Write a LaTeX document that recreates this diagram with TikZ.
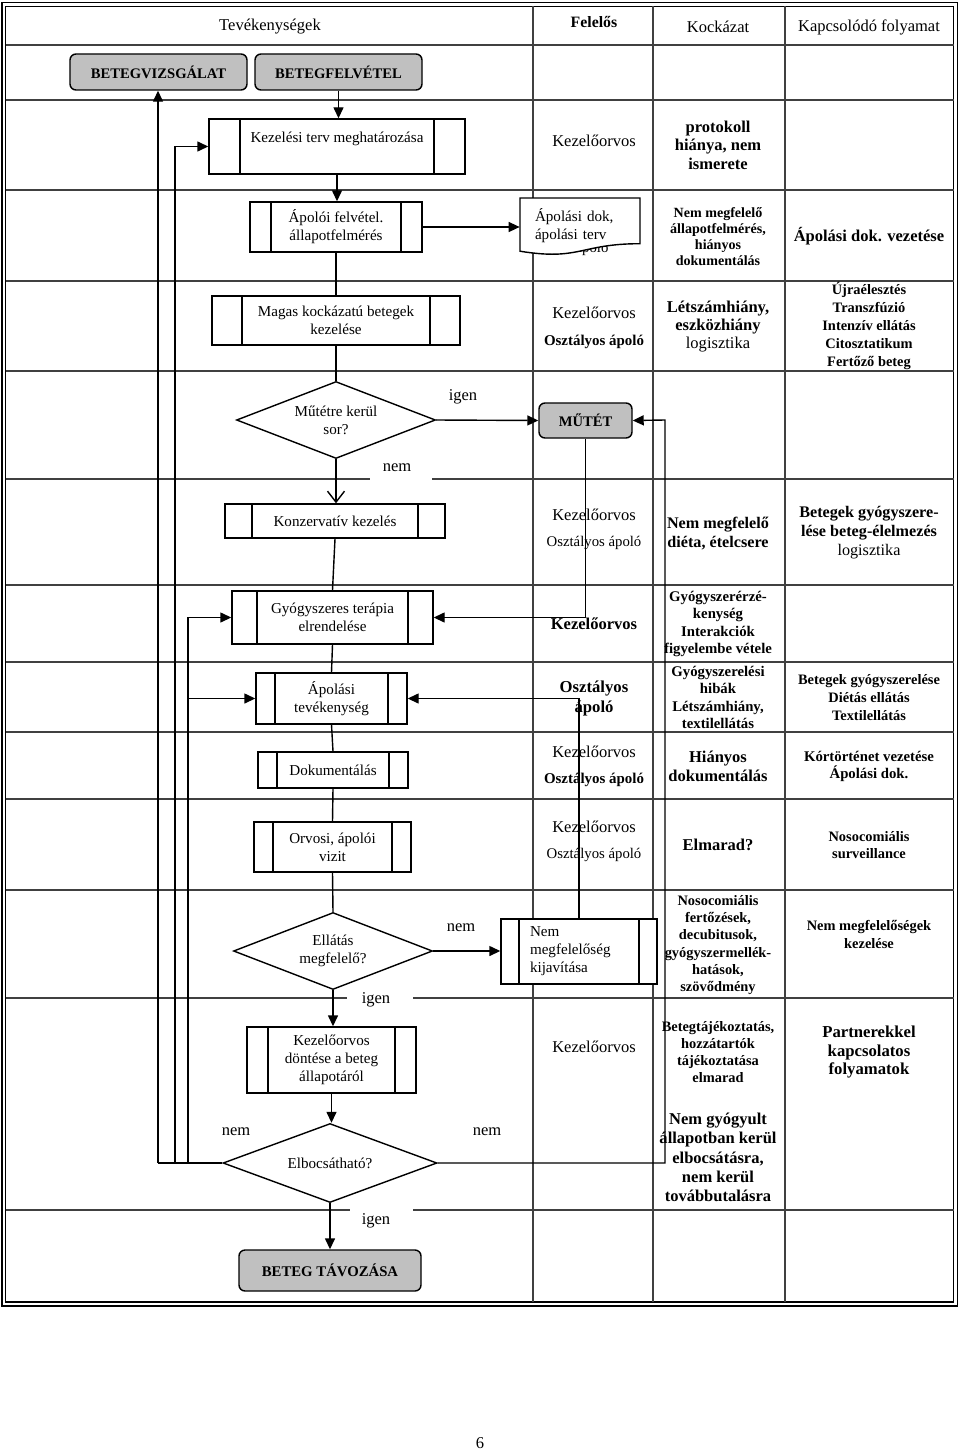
\documentclass[tikz,border=0pt]{standalone}
\usepackage{fontspec}
\setmainfont{Liberation Serif}
\usetikzlibrary{shapes.geometric, arrows.meta, positioning}
\definecolor{boxgray}{RGB}{192,192,192}

\tikzset{
  grid/.style={black!75, line width=0.6pt},
  link/.style={line width=0.8pt},
  flow/.style={line width=0.8pt, -{Triangle[length=2.2mm,width=2mm]}},
  openflow/.style={line width=0.8pt, -{Straight Barb[length=2.2mm,width=3.4mm]}},
  flowtxt/.style={align=center, font=\fontsize{8.6}{10.2}\selectfont},
  cell/.style={align=center, font=\fontsize{9.4}{10.8}\selectfont},
  cellbf/.style={align=center, font=\fontsize{9.4}{10.8}\selectfont\bfseries},
  cellsm/.style={align=center, font=\fontsize{8.2}{9.8}\selectfont\bfseries},
  procbox/.style={draw, line width=0.8pt, fill=white, flowtxt, inner sep=1pt,
    path picture={
      \draw[line width=0.8pt]
        ([xshift=#1]path picture bounding box.north west) -- ([xshift=#1]path picture bounding box.south west)
        ([xshift=-#1]path picture bounding box.north east) -- ([xshift=-#1]path picture bounding box.south east);}},
  termbox/.style={draw, line width=0.8pt, fill=boxgray, rounded corners=1.2mm,
    font=\fontsize{8.3}{10}\selectfont\bfseries},
  decision/.style={diamond, draw, line width=0.8pt, fill=white, inner sep=0pt, aspect=2.6, flowtxt}
}

\begin{document}
\begin{tikzpicture}[x=0.2mm, y=-0.2mm]
	\useasboundingbox (0,0) rectangle (960,1451);
	%Frame
	\draw[line width=1pt] (2,2.5) rectangle (957.5,1306);
	\draw[line width=0.9pt] (5.5,6.5) rectangle (953.5,1302);
	%Columns and rows
	\foreach \cx in {533,653,785} \draw[grid] (\cx,6.5) -- (\cx,1302);
	\foreach \ry in {45,100,190,281,371,585,662,732,799,890} \draw[grid] (5.5,\ry) -- (953.5,\ry);
	\foreach \ry/\ga/\gb in {479/370/432, 998/347/413, 1210/350/413} {
		\draw[grid] (5.5,\ry) -- (\ga,\ry);
		\draw[grid] (\gb,\ry) -- (953.5,\ry);
	}
	%Header
	\node[cell] (hTev) at (270,27) {Tevékenységek};
	\node[cellbf, font=\fontsize{9}{10.8}\selectfont\bfseries] (hFel) at (594,22) {Felelős};
	\node[cell] (hKoc) at (718,27) {Kockázat};
	\node[cell] (hKap) at (869,27) {Kapcsolódó folyamat};

	% Responsible, risk, related process
	\node[cell] (f1) at (594,141) {Kezelőorvos};
	\node[cellbf, font=\fontsize{9.4}{10.5}\selectfont\bfseries] (k1) at (718,145) {protokoll\\hiánya, nem\\ismerete};
	\node[cell, font=\fontsize{8.4}{10}\selectfont] (f2) at (592,249) {ápoló};
	\node[cellsm, font=\fontsize{8}{9.1}\selectfont\bfseries] (k2) at (718,236.5) {Nem megfelelő\\állapotfelmérés,\\hiányos\\dokumentálás};
	\node[cellbf] (p2) at (869,236) {Ápolási dok. vezetése};
	\node[cell] (f3a) at (594,313) {Kezelőorvos};
	\node[cellsm, font=\fontsize{8.5}{10}\selectfont\bfseries] (f3b) at (594,342) {Osztályos ápoló};
	\node[cell, font=\fontsize{9.4}{10.5}\selectfont] (k3) at (718,326.5) {\textbf{Létszámhiány,}\\\textbf{eszközhiány}\\logisztika};
	\node[cellsm, font=\fontsize{8.2}{10.2}\selectfont\bfseries] (p3) at (869,326) {Újraélesztés\\Transzfúzió\\Intenzív ellátás\\Citosztatikum\\Fertőző beteg};
	\node[cell] (f5a) at (594,515) {Kezelőorvos};
	\node[cell, font=\fontsize{8.4}{10}\selectfont] (f5b) at (594,543) {Osztályos ápoló};
	\node[cellbf, font=\fontsize{9.2}{10.8}\selectfont\bfseries] (k5) at (718,533.5) {Nem megfelelő\\diéta, ételcsere};
	\node[cell, font=\fontsize{9.2}{11}\selectfont] (p5) at (869,532.5) {\textbf{Betegek gyógyszere-}\\\textbf{lése beteg-élelmezés}\\logisztika};
	\node[cellbf] (f6) at (594,624) {Kezelőorvos};
	\node[cellsm, font=\fontsize{8.4}{9.8}\selectfont\bfseries] (k6) at (718,624) {Gyógyszerérzé-\\kenység\\Interakciók\\figyelembe vétele};
	\node[cellbf, font=\fontsize{9.5}{11.4}\selectfont\bfseries] (f7) at (594,698) {Osztályos\\ápoló};
	\node[cellsm, font=\fontsize{8.4}{9.8}\selectfont\bfseries] (k7) at (718,697.5) {Gyógyszerelési\\hibák\\Létszámhiány,\\textilellátás};
	\node[cellsm, font=\fontsize{8.2}{10}\selectfont\bfseries] (p7) at (869,697.5) {Betegek gyógyszerelése\\Diétás ellátás\\Textilellátás};
	\node[cell] (f8a) at (594,752) {Kezelőorvos};
	\node[cellsm, font=\fontsize{8.5}{10}\selectfont\bfseries] (f8b) at (594,780) {Osztályos ápoló};
	\node[cellbf] (k8) at (718,766.5) {Hiányos\\dokumentálás};
	\node[cellsm, font=\fontsize{8.4}{9.7}\selectfont\bfseries] (p8) at (869,766) {Kórtörténet vezetése\\Ápolási dok.};
	\node[cell] (f9a) at (594,827) {Kezelőorvos};
	\node[cell, font=\fontsize{8.4}{10}\selectfont] (f9b) at (594,855) {Osztályos ápoló};
	\node[cellbf] (k9) at (718,845) {Elmarad?};
	\node[cellsm, font=\fontsize{8.2}{9.7}\selectfont\bfseries] (p9) at (869,845) {Nosocomiális\\surveillance};
	\node[cellsm] (k10) at (718,945) {Nosocomiális\\fertőzések,\\decubitusok,\\gyógyszermellék-\\hatások,\\szövődmény};
	\node[cellsm] (p10) at (869,934.5) {Nem megfelelőségek\\kezelése};
	\node[cell] (f11) at (594,1047) {Kezelőorvos};
	\node[cellsm] (k11) at (718,1052) {Betegtájékoztatás,\\hozzátartók\\tájékoztatása\\elmarad};
	\node[cellbf, font=\fontsize{9.5}{10.8}\selectfont\bfseries] (p11) at (869,1052) {Partnerekkel\\kapcsolatos\\folyamatok};
	\node[cellbf, font=\fontsize{9.4}{10.9}\selectfont\bfseries] (k12) at (718,1157.5) {Nem gyógyult\\állapotban kerül\\elbocsátásra,\\nem kerül\\továbbutalásra};

	%Document shape
	\draw[line width=0.8pt, fill=white] (520,198) -- (640,198) -- (640,243.7)
		.. controls (580,243.7) and (580,261) .. (520,251.2) -- cycle;
	\node[flowtxt, align=left, text width=18mm, minimum width=24mm, minimum height=10mm, inner sep=0pt] (doc) at (580,226) {Ápolási dok,\\ápolási terv};

	%Process boxes
	\node[termbox, minimum width=35.4mm, minimum height=7.2mm] (vizsg) at (158.5,72) {BETEGVIZSGÁLAT};
	\node[termbox, minimum width=33.4mm, minimum height=7.2mm] (felvet) at (338.5,72) {BETEGFELVÉTEL};
	\node[procbox=6.2mm, minimum width=51.2mm, minimum height=11mm] (kezterv) at (337,146.5) {Kezelési terv meghatározása\\ \mbox{}};
	\node[procbox=4.2mm, minimum width=34.4mm, minimum height=10mm] (apfelv) at (336,227) {Ápolói felvétel.\\állapotfelmérés};
	\node[procbox=6mm, minimum width=49.6mm, minimum height=9.8mm] (magas) at (336,320.5) {Magas kockázatú betegek\\kezelése};
	\node[decision, minimum width=39.8mm, minimum height=15.4mm] (mutetq) at (336,420) {Műtétre kerül\\sor?};
	\node[termbox, minimum width=18.6mm, minimum height=7mm] (mutet) at (585.5,420.5) {MŰTÉT};
	\node[procbox=5.4mm, minimum width=44mm, minimum height=6.8mm] (konz) at (335,521) {Konzervatív kezelés};
	\node[procbox=5mm, minimum width=40.2mm, minimum height=10.6mm] (gyogy) at (332.5,617.5) {Gyógyszeres terápia\\elrendelése};
	\node[procbox=3.8mm, minimum width=30.2mm, minimum height=10.2mm] (apol) at (331.5,698.5) {Ápolási\\tevékenység};
	\node[procbox=3.8mm, minimum width=30mm, minimum height=7.2mm] (dok) at (333,770) {Dokumentálás};
	\node[procbox=3.8mm, minimum width=31.4mm, minimum height=10mm] (vizit) at (332.5,847) {Orvosi, ápolói\\vizit};
	\node[decision, minimum width=39.8mm, minimum height=15.4mm] (ellq) at (333,951) {Ellátás\\megfelelő?};
	\node[procbox=3.6mm, minimum width=31.2mm, minimum height=13mm, align=left, text width=19.6mm] (javit) at (579,951.5) {Nem\\megfelelőség\\kijavítása};
	\node[procbox=4.2mm, minimum width=33.8mm, minimum height=13.2mm] (dontes) at (331.5,1060) {Kezelőorvos\\döntése a beteg\\állapotáról};
	\node[decision, minimum width=42.8mm, minimum height=15.8mm, aspect=2.7] (elbq) at (330,1163) {Elbocsátható?};
	\node[termbox, minimum width=36.4mm, minimum height=8.2mm, font=\fontsize{8.4}{10}\selectfont\bfseries] (tavozas) at (330,1270.5) {BETEG TÁVOZÁSA};

	%Main flow
	\draw[flow] (felvet.south) -- (felvet.south |- kezterv.north);
	\draw[flow] (kezterv.south) -- (kezterv.south |- apfelv.north);
	\draw[flow] (apfelv.east) -- (apfelv.east -| doc.west);
	\draw[link] (apfelv.south) -- (magas.north);
	\draw[link] (magas.south) -- (mutetq.north);
	\draw[flow] (mutetq.east) -- (mutet.west);
	\draw[openflow] (mutetq.south) -- (mutetq.south |- konz.north);
	\draw[link] (konz.south) -- (gyogy.north);
	\draw[link] (gyogy.south) -- (apol.north);
	\draw[link] (apol.south) -- (dok.north);
	\draw[link] (dok.south) -- (vizit.north);
	\draw[link] (vizit.south) -- (ellq.north);
	\draw[flow] (ellq.east) -- (ellq.east -| javit.west);
	\draw[flow] (ellq.south) -- (ellq.south |- dontes.north);
	\draw[flow] (dontes.south) -- (dontes.south |- elbq.north);
	\draw[flow] (elbq.south) -- (elbq.south |- tavozas.north);
	\draw[flow] (mutet.south) |- (gyogy.east);
	\draw[flow] (javit.north) |- (apol.east);

	%Loops back
	\coordinate (trackA) at (158,1163);
	\coordinate (trackB) at (175,1163);
	\coordinate (trackC) at (188,1163);
	\coordinate (trackR) at (665,420);
	\draw[link] (elbq.west) -- (trackA);
	\draw[flow] (trackA) -- (trackA |- vizsg.south);
	\draw[flow] (trackB) |- (kezterv.west);
	\draw[flow] (trackC) |- (gyogy.west);
	\draw[flow] (trackC |- apol.west) -- (apol.west);
	\draw[flow] (elbq.east) -| (trackR) -- (mutet.east);

	%Branch labels
	\node[cell] (lIgenA) at (463,397) {igen};
	\node[cell] (lNemA) at (397,468) {nem};
	\node[cell] (lNemB) at (461,928) {nem};
	\node[cell] (lIgenB) at (376,1000) {igen};
	\node[cell] (lNemC) at (236,1132) {nem};
	\node[cell] (lNemD) at (487,1132) {nem};
	\node[cell] (lIgenC) at (376,1221) {igen};

	%Page number
	\node[cell] (pnum) at (480,1443) {6};
\end{tikzpicture}
\end{document}
